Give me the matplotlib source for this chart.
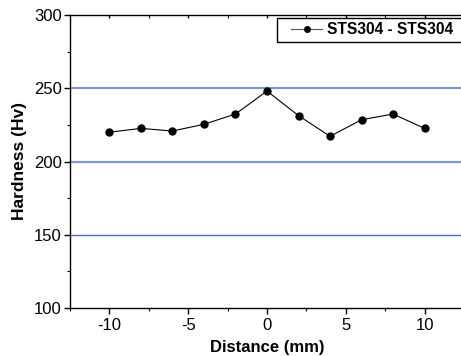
import matplotlib.pyplot as plt
from matplotlib.ticker import MultipleLocator
from matplotlib.patches import Rectangle

plt.rcParams['font.family'] = ['Liberation Sans', 'DejaVu Sans']
plt.rcParams['axes.unicode_minus'] = False

distance = [-10, -8, -6, -4, -2, 0, 2, 4, 6, 8, 10]
hardness = [220, 222.6, 220.8, 225.4, 232.4, 248.1, 231.3, 217.2, 228.5, 232.4, 222.6]
label = "STS304 - STS304"

W, H = 461, 356
fig = plt.figure(figsize=(W / 100, H / 100), dpi=100)
ax = fig.add_axes([70 / W, 48 / H, 394 / W, 293 / H])

# horizontal reference lines
ax.axhline(250, color='#8095d2', lw=1.6, zorder=1)
ax.axhline(200, color='#8095d2', lw=1.6, zorder=1)
ax.axhline(150, color='#4a6cc0', lw=1.0, zorder=1)

ax.plot(distance, hardness, color='black', lw=0.8, marker='o', ms=5,
        label=label, zorder=3)

ax.set_xlim(-12.5, 12.5)
ax.set_ylim(100, 300)
ax.xaxis.set_major_locator(MultipleLocator(5))
ax.xaxis.set_minor_locator(MultipleLocator(2.5))
ax.yaxis.set_major_locator(MultipleLocator(50))
ax.yaxis.set_minor_locator(MultipleLocator(25))

ax.spines['right'].set_visible(False)
for s in ['left', 'bottom', 'top']:
    ax.spines[s].set_linewidth(1.0)

ax.tick_params(which='major', direction='out', length=4.5, width=1,
               labelsize=12, pad=1.5)
ax.tick_params(which='minor', direction='out', length=2.5, width=0.8)
ax.tick_params(axis='x', which='both', top=True, labeltop=False)
ax.tick_params(axis='x', which='major', pad=3)
for t in ax.xaxis.get_major_ticks() + ax.xaxis.get_minor_ticks():
    t.tick2line.set_marker(3)
    t.tick2line.set_markersize(2)
    t.tick2line.set_color('#999999')

ax.set_xlabel('Distance (mm)', fontsize=12, fontweight='bold', labelpad=5)
ax.set_ylabel('Hardness (Hv)', fontsize=12.5, fontweight='bold', labelpad=5)

# legend box
fig.patches.append(Rectangle((277 / W, (H - 42) / H), 186 / W, 24 / H,
                             transform=fig.transFigure, fill=False,
                             edgecolor='black', lw=1.0, zorder=5))
leg = ax.legend(loc='center left', bbox_to_anchor=(291 / W, (H - 30) / H),
                bbox_transform=fig.transFigure,
                prop={'weight': 'bold', 'size': 11.2}, frameon=False,
                borderpad=0, handlelength=2.0, handletextpad=0.3,
                borderaxespad=0)
h = leg.legend_handles[0]
h.set_color('#555555')
h.set_markerfacecolor('black')
h.set_markeredgecolor('black')
h.set_markersize(4)

fig.savefig('out.png', dpi=100)
